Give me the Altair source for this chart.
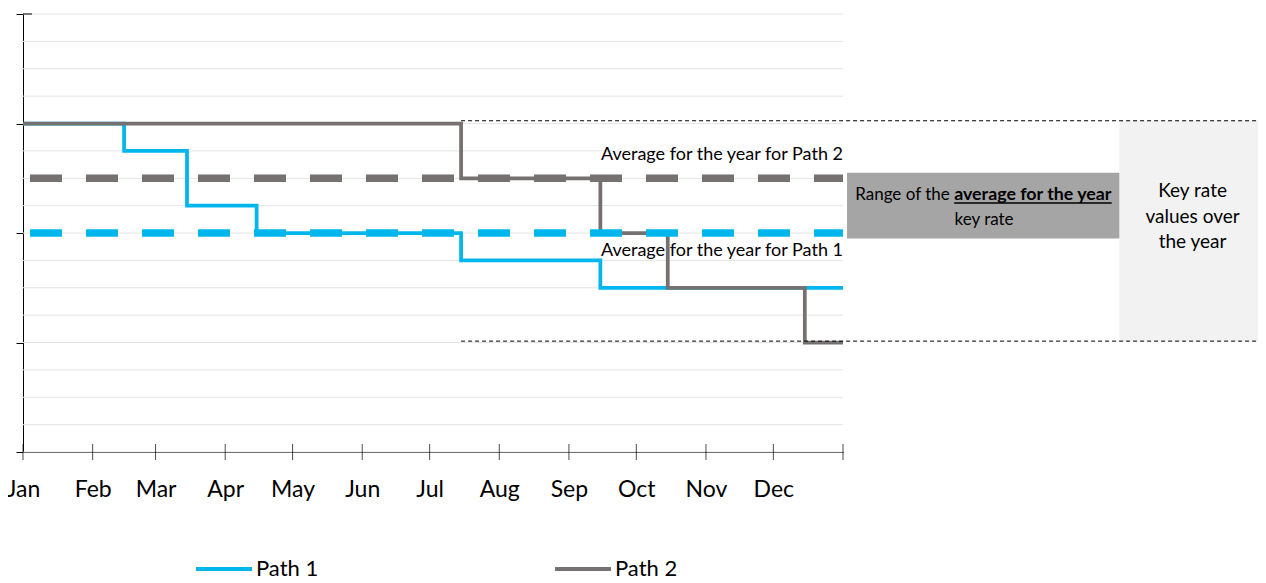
import altair as alt
import pandas as pd

FONT = "Lato"
YEAR_START = pd.Timestamp("2023-01-01")

# ---- data ----
months = ["Jan", "Feb", "Mar", "Apr", "May", "Jun", "Jul", "Aug", "Sep", "Oct", "Nov", "Dec"]
month_starts = ["2023-01-01", "2023-02-01", "2023-03-01", "2023-04-01", "2023-05-01",
                "2023-06-01", "2023-07-01", "2023-08-01", "2023-09-01", "2023-10-01",
                "2023-11-01", "2023-12-01", "2024-01-01"]

path1_dates = ["2023-01-01", "2023-02-15", "2023-03-15", "2023-04-15", "2023-07-15",
               "2023-09-15", "2024-01-01"]
path1_rates = [12, 11, 9, 8, 7, 6, 6]

path2_dates = ["2023-01-01", "2023-07-15", "2023-09-15", "2023-10-15", "2023-12-15",
               "2024-01-01"]
path2_rates = [12, 10, 8, 6, 4, 4]

series_names = ["Path 1", "Path 2"]
series_colors = ["#00b6ec", "#767171"]
avg_rates = [8, 10]          # average for the year, Path 1 / Path 2
range_low, range_high = 4.05, 12.1      # key-rate values over the year
avg_range_low, avg_range_high = 7.8, 10.2
grid_values = list(range(17))
major_values = [0, 4, 8, 12, 16]


def day(d):
    return (pd.Timestamp(d) - YEAR_START).days


month_days = [day(d) for d in month_starts]
year_end = month_days[-1]

lines = pd.DataFrame(
    [{"day": day(d), "rate": r, "series": series_names[0]} for d, r in zip(path1_dates, path1_rates)]
    + [{"day": day(d), "rate": r, "series": series_names[1]} for d, r in zip(path2_dates, path2_rates)]
)
avgs = pd.DataFrame({"series": series_names, "rate": avg_rates,
                     "x0": [0, 0], "x1": [year_end, year_end]})
ticks_df = pd.DataFrame({"day": month_days, "y": [0] * len(month_days)})
grid_df = pd.DataFrame({"y": grid_values, "x0": [0] * len(grid_values),
                        "x1": [year_end] * len(grid_values)})

label_expr = f"{months}[indexof({month_days}, datum.value)] || ''"

xscale = alt.Scale(domain=[0, year_end], nice=False, zero=False)
yscale = alt.Scale(domain=[0, 16], nice=False, zero=False)

x_axis = alt.Axis(values=month_days, labelExpr=label_expr, ticks=False, grid=False,
                  domainColor="#000000", domainWidth=1, labelFont=FONT, labelFontSize=23,
                  labelColor="#000000", labelPadding=26, labelAngle=0, labelFlush=False,
                  labelOverlap=False, title=None)
y_axis = alt.Axis(values=major_values, labels=False, grid=False,
                  tickColor="#000000", tickSize=7,
                  domainColor="#000000", domainWidth=1, title=None)

color = alt.Color("series:N", scale=alt.Scale(domain=series_names, range=series_colors),
                  legend=alt.Legend(orient="none", legendX=171, legendY=525, direction="horizontal",
                                    title=None, symbolType="stroke", symbolSize=3136,
                                    symbolStrokeWidth=4, labelFont=FONT, labelFontSize=22,
                                    labelColor="#000000", labelOffset=2, columnPadding=228,
                                    padding=0))

gridlines = alt.Chart(grid_df).mark_rule(color="#e4e4e4", strokeWidth=1).encode(
    x=alt.X("x0:Q", scale=xscale, axis=x_axis), x2="x1:Q",
    y=alt.Y("y:Q", scale=yscale, axis=y_axis))

# annotation boxes
light_box = alt.Chart(pd.DataFrame({"x0": [488], "x1": [560], "y0": [range_low], "y1": [range_high]})
                      ).mark_rect(color="#f2f2f2").encode(x="x0:Q", x2="x1:Q", y="y0:Q", y2="y1:Q")
dark_box = alt.Chart(pd.DataFrame({"x0": [366.8], "x1": [488], "y0": [avg_range_low], "y1": [avg_range_high]})
                     ).mark_rect(color="#a5a5a5").encode(x="x0:Q", x2="x1:Q", y="y0:Q", y2="y1:Q")

x_ticks = alt.Chart(ticks_df).mark_tick(orient="vertical", color="#000000", size=16, thickness=1).encode(
    x="day:Q", y="y:Q")
top_stub = alt.Chart(pd.DataFrame({"x0": [0], "x1": [4], "y": [16]})).mark_rule(
    color="#000000", strokeWidth=1).encode(x="x0:Q", x2="x1:Q", y="y:Q")

step_lines = alt.Chart(lines).mark_line(interpolate="step-after", strokeWidth=3.75).encode(
    x="day:Q", y="rate:Q", color=color, detail="series:N")

dotted = alt.Chart(pd.DataFrame({"x0": [day("2023-07-15")] * 2, "x1": [560, 560],
                                 "y": [range_high, range_low]})).mark_rule(
    color="#000000", strokeWidth=1, strokeDash=[4, 3]).encode(x="x0:Q", x2="x1:Q", y="y:Q")

avg_lines = alt.Chart(avgs).mark_rule(strokeWidth=7.5, strokeDash=[32, 24], strokeDashOffset=49).encode(
    x="x0:Q", x2="x1:Q", y="rate:Q",
    color=alt.Color("series:N", scale=alt.Scale(domain=series_names, range=series_colors), legend=None))

txt_avg = alt.Chart(pd.DataFrame({"x": [year_end, year_end], "y": [10.67, 7.17],
                                  "t": ["Average for the year for Path 2", "Average for the year for Path 1"]})
                    ).mark_text(align="right", baseline="alphabetic", font=FONT, fontSize=18,
                                color="#000000").encode(x="x:Q", y="y:Q", text="t:N")

txt_range1 = alt.Chart(pd.DataFrame({"x": [412.5], "y": [9.22], "t": ["Range of the"]})).mark_text(
    align="right", baseline="alphabetic", font=FONT, fontSize=17, color="#000000").encode(
    x="x:Q", y="y:Q", text="t:N")
txt_range2 = alt.Chart(pd.DataFrame({"x": [414.5], "y": [9.22], "t": ["average for the year"]})).mark_text(
    align="left", baseline="alphabetic", font=FONT, fontSize=17.8, fontWeight="bold", color="#000000").encode(
    x="x:Q", y="y:Q", text="t:N")
underline = alt.Chart(pd.DataFrame({"x0": [414.5], "x1": [484.6], "y": [9.1]})).mark_rule(
    color="#000000", strokeWidth=1.5).encode(x="x0:Q", x2="x1:Q", y="y:Q")
txt_range3 = alt.Chart(pd.DataFrame({"x": [427.8], "y": [8.3], "t": ["key rate"]})).mark_text(
    align="center", baseline="alphabetic", font=FONT, fontSize=17, color="#000000").encode(
    x="x:Q", y="y:Q", text="t:N")

txt_key = alt.Chart(pd.DataFrame({"x": [520.6], "y": [9.3], "t": ["Key rate\nvalues over\nthe year"]})).mark_text(
    align="center", baseline="alphabetic", font=FONT, fontSize=19, lineHeight=25.3, lineBreak="\n",
    color="#000000").encode(x="x:Q", y="y:Q", text="t:N")

chart = alt.layer(
    gridlines, light_box, dark_box, x_ticks, top_stub, step_lines, dotted, avg_lines,
    txt_avg, txt_range1, txt_range2, underline, txt_range3, txt_key,
).properties(
    width=820, height=438,
    autosize=alt.AutoSizeParams(type="none"),
    padding={"left": 15, "top": 6, "right": 415, "bottom": 131},
    background="white",
).configure_view(strokeWidth=0).configure_axis(grid=False)

chart.save("out.html", embed_options={"renderer": "svg", "actions": False})
